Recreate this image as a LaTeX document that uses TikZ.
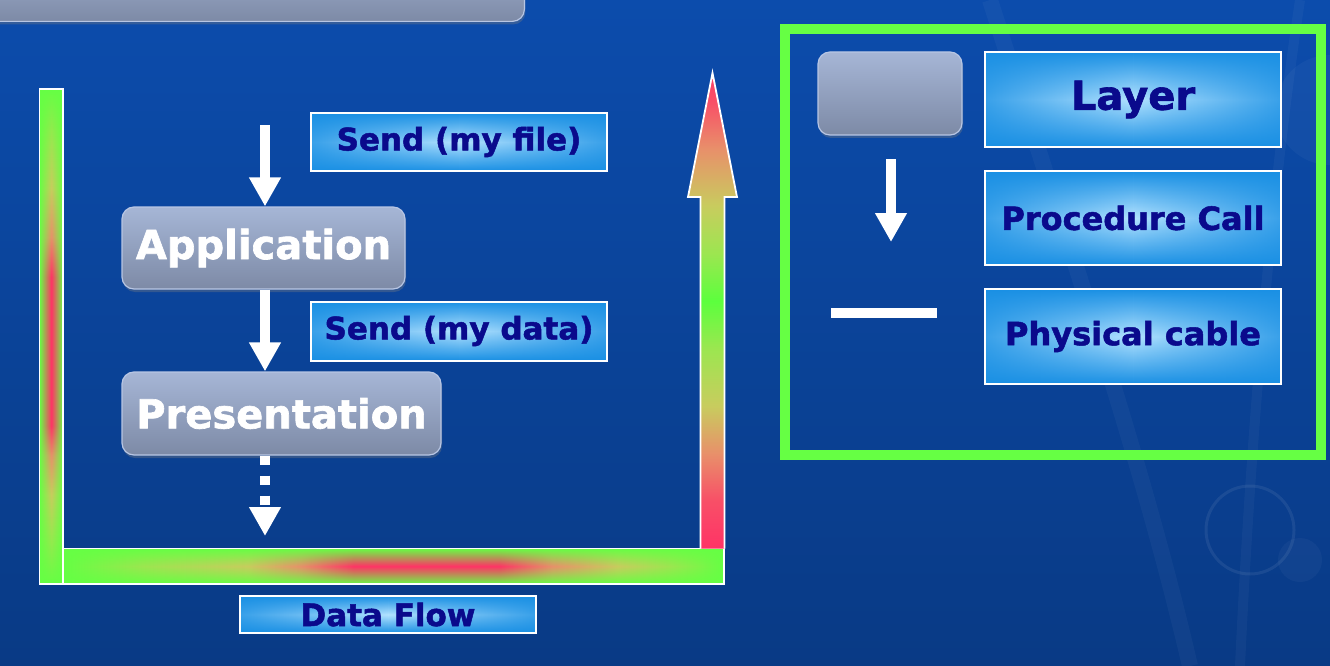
\documentclass[tikz,border=0pt]{standalone}
\usepackage{fontspec}
\newfontfamily\dvs{DejaVu Sans}[BoldFeatures={FakeBold=1.6}]
\usetikzlibrary{arrows.meta,shadows,fadings}
\definecolor{bgtop}{HTML}{0C4CAC}
\definecolor{bgbot}{HTML}{093A85}
\definecolor{graytop}{HTML}{A6B6D6}
\definecolor{graybot}{HTML}{7D8AA6}
\definecolor{grayedge}{HTML}{B8C6E4}
\definecolor{bluedark}{HTML}{1A90E4}
\definecolor{bluelight}{HTML}{B2E2FF}
\definecolor{navytext}{HTML}{0A0A8C}
\definecolor{fgreen}{HTML}{66FF44}
\definecolor{fyellow}{HTML}{C8CC5E}
\definecolor{forange}{HTML}{E8906A}
\definecolor{fred}{HTML}{FF3366}
\definecolor{fgreen2}{HTML}{9CE650}
\pgfdeclareverticalshading{lbarshade}{100bp}{color(0bp)=(fgreen); color(25bp)=(fgreen); color(30bp)=(fgreen2); color(34bp)=(fyellow); color(38bp)=(forange); color(41bp)=(fred); color(56bp)=(fred); color(60bp)=(forange); color(65bp)=(fyellow); color(70bp)=(fgreen2); color(75bp)=(fgreen); color(100bp)=(fgreen)}
\pgfdeclarehorizontalshading{bbarshade}{100bp}{color(0bp)=(fgreen); color(25bp)=(fgreen); color(31bp)=(fgreen2); color(39bp)=(fyellow); color(43bp)=(forange); color(47bp)=(fred); color(58bp)=(fred); color(62bp)=(forange); color(67bp)=(fyellow); color(71bp)=(fgreen2); color(75bp)=(fgreen); color(100bp)=(fgreen)}
\pgfdeclareverticalshading{arrowshade}{100bp}{color(0bp)=(fred); color(25bp)=(fred); color(30bp)=(fred!70!forange); color(35bp)=(forange); color(40bp)=(fyellow); color(46bp)=(fgreen2); color(51bp)=(fgreen!90!green); color(56bp)=(fgreen2); color(61bp)=(fyellow); color(67bp)=(forange); color(72bp)=(fred!70!forange); color(75bp)=(fred!85!forange); color(100bp)=(fred)}
\tikzfading[name=edgefadeh, left color=transparent!0, right color=transparent!0, middle color=transparent!100]
\tikzfading[name=edgefadev, top color=transparent!0, bottom color=transparent!0, middle color=transparent!100]
\tikzset{
  graybox/.style={rectangle, rounded corners=12pt, draw=grayedge, line width=1.2pt,
    top color=graytop, bottom color=graybot, inner sep=0pt,
    drop shadow={opacity=0.35, shadow xshift=1pt, shadow yshift=-3pt},
    text=white, font=\dvs\bfseries\fontsize{40}{48}\selectfont},
  bluebox/.style={rectangle, draw=white, line width=2pt, inner sep=0pt,
    top color=bluedark, bottom color=bluedark, middle color=bluelight,
    path picture={\fill[bluedark, opacity=0.8, path fading=edgefadeh] (path picture bounding box.south west) rectangle (path picture bounding box.north east);},
    text=navytext},
  flowarrow/.style={draw=white, line width=9.5pt, -{Triangle[width=30pt,length=29pt]}},
  barline/.style={draw=white, line width=1.8pt},
}
\begin{document}
\begin{tikzpicture}[x=1pt,y=-1pt]
\useasboundingbox (0,0) rectangle (1330,666);
% background
\fill[top color=bgtop, bottom color=bgbot] (0,0) rectangle (1330,666);
% faint decorations
\begin{scope}[white, opacity=0.035]
\draw[line width=16pt] (990,0) .. controls (1060,220) and (1140,450) .. (1190,666);
\draw[line width=10pt] (1300,0) .. controls (1270,200) and (1250,450) .. (1240,666);
\fill (1330,110) circle (55);
\fill (1300,560) circle (22);
\end{scope}
\draw[white, opacity=0.07, line width=3pt] (1250,530) circle (44);
% top-left gray box
\node[graybox, top color=graytop!80!graybot, minimum width=560pt, minimum height=60pt, anchor=south east] (topbox) at (525,22) {};
% layer nodes
\node[graybox, minimum width=283pt, minimum height=82pt] (app) at (263.5,248) {Application};
\node[graybox, minimum width=319pt, minimum height=83pt] (pres) at (281.5,413.5) {Presentation};
% labels
\node[bluebox, minimum width=296pt, minimum height=58pt, font=\dvs\bfseries\fontsize{31}{36}\selectfont] (sfile) at (459,142) {Send (my file)};
\node[bluebox, minimum width=296pt, minimum height=59pt, font=\dvs\bfseries\fontsize{31}{36}\selectfont] (sdata) at (459,331) {Send (my data)};
\node[bluebox, minimum width=296pt, minimum height=37pt, font=\dvs\bfseries\fontsize{31}{36}\selectfont] (dflow) at (388,614.5) {Data Flow};
% arrows
\coordinate (c1) at (265,125);
\coordinate (c2) at (265,536);
\draw[flowarrow] (c1) -- (c1 |- app.north);
\draw[flowarrow] (c1 |- app.south) -- (c1 |- pres.north);
\draw[flowarrow, dash pattern=on 9pt off 11pt] (c1 |- pres.south) -- (c2);
% data flow bars
\path[shading=bbarshade] (63,548.5) rectangle (724,584);
\fill[fgreen, path fading=edgefadev] (63,548.5) rectangle (724,584);
\draw[barline] (63,548.5) rectangle (724,584);
\path[shading=lbarshade] (39.5,89) rectangle (63,584);
\fill[fgreen, path fading=edgefadeh] (39.5,89) rectangle (63,584);
\draw[barline] (39.5,89) rectangle (63,584);
\path[shading=arrowshade] (700.5,548.5) -- (700.5,197) -- (688,197) -- (712.5,73) -- (737,197) -- (724.5,197) -- (724.5,548.5) -- cycle;
\draw[barline, line join=miter] (700.5,548.5) -- (700.5,197) -- (688,197) -- (712.5,73) -- (737,197) -- (724.5,197) -- (724.5,548.5);
% legend
\draw[fgreen, line width=10pt] (785,29) rectangle (1321,455);
\node[graybox, minimum width=144pt, minimum height=83pt] (leglayer) at (890,93.5) {};
\node[bluebox, minimum width=296pt, minimum height=95pt, font=\dvs\bfseries\fontsize{40}{48}\selectfont] (tlayer) at (1133,99.5) {Layer};
\node[bluebox, minimum width=296pt, minimum height=94pt, font=\dvs\bfseries\fontsize{32}{38}\selectfont] (tproc) at (1133,218) {Procedure Call};
\node[bluebox, minimum width=296pt, minimum height=95pt, font=\dvs\bfseries\fontsize{32}{38}\selectfont] (tphys) at (1133,336.5) {Physical cable};
\coordinate (c3) at (891,159);
\coordinate (c4) at (891,242);
\draw[flowarrow] (c3) -- (c4);
\coordinate (c5) at (831,313);
\coordinate (c6) at (937,313);
\draw[white, line width=10pt] (c5) -- (c6);
\end{tikzpicture}
\end{document}
